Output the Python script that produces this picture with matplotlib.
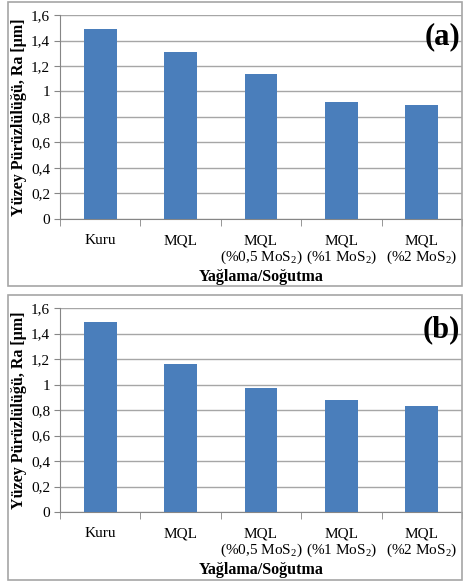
import numpy as np
import matplotlib.pyplot as plt
from matplotlib.patches import Rectangle

# categories and Ra values
categories = ['Kuru', 'MQL', 'MQL\n(%0,5 MoS$_2$)', 'MQL\n(%1 MoS$_2$)', 'MQL\n(%2 MoS$_2$)']
ra_a = [1.49, 1.31, 1.14, 0.92, 0.895]
ra_b = [1.49, 1.16, 0.975, 0.88, 0.83]
panel_tags = ['(a)', '(b)']
yticks = [0, 0.2, 0.4, 0.6, 0.8, 1.0, 1.2, 1.4, 1.6]
ytick_labels = ['0', '0,2', '0,4', '0,6', '0,8', '1', '1,2', '1,4', '1,6']

plt.rcParams['font.family'] = ['Liberation Serif', 'DejaVu Serif']
plt.rcParams['mathtext.fontset'] = 'custom'
plt.rcParams['mathtext.rm'] = 'Liberation Serif'

W, H = 464, 581
fig = plt.figure(figsize=(W/100, H/100), dpi=100)

# frame boxes around each panel (pixel coords, top-left origin)
boxes = [(8, 2, 462, 286), (8, 295, 462, 580)]
for x0, y0, x1, y1 in boxes:
    fig.patches.append(Rectangle((x0/W, 1-y1/H), (x1-x0)/W, (y1-y0)/H,
                                 transform=fig.transFigure, fill=False,
                                 edgecolor='#a6a6a6', linewidth=1.2))

# axes: left, bottom(y of zero), top(y of 1.6) in pixels
axes_px = [(60, 219, 15), (60, 512, 308)]
data = [ra_a, ra_b]

for (lx, by, ty), vals, tag in zip(axes_px, data, panel_tags):
    ax = fig.add_axes([lx/W, 1-by/H, (462-lx)/W, (by-ty)/H])
    x = np.arange(len(categories))
    ax.bar(x, vals, width=0.41, color='#4a7ebb', zorder=3)
    ax.set_xlim(-0.5, len(categories)-0.5)
    ax.set_ylim(0, 1.6)
    ax.set_yticks(yticks)
    ax.set_yticklabels(ytick_labels, fontsize=11)
    ax.yaxis.grid(True, color='#a6a6a6', linewidth=1, zorder=0)
    ax.set_xticks(x)
    ax.set_xticklabels(categories, fontsize=11, linespacing=1.1)
    ax.set_xticks(np.arange(-0.5, len(categories)), minor=True)
    ax.tick_params(axis='x', which='major', length=0, pad=11)
    ax.tick_params(axis='x', which='minor', length=5, color='#868686')
    ax.tick_params(axis='y', length=4, color='#868686', pad=3)
    for s in ['top', 'right']:
        ax.spines[s].set_visible(False)
    ax.spines['left'].set_color('#868686')
    ax.spines['bottom'].set_color('#868686')
    ax.set_ylabel('Yüzey Pürüzlülüğü, Ra [µm]', fontsize=11.5, fontweight='bold', labelpad=3)
    ax.set_xlabel('Yağlama/Soğutma', fontsize=11.5, fontweight='bold', labelpad=2)
    ax.text(0.995, 0.965, tag, transform=ax.transAxes, ha='right', va='top',
            fontsize=22, fontweight='bold')

fig.savefig('out.png', dpi=100)
